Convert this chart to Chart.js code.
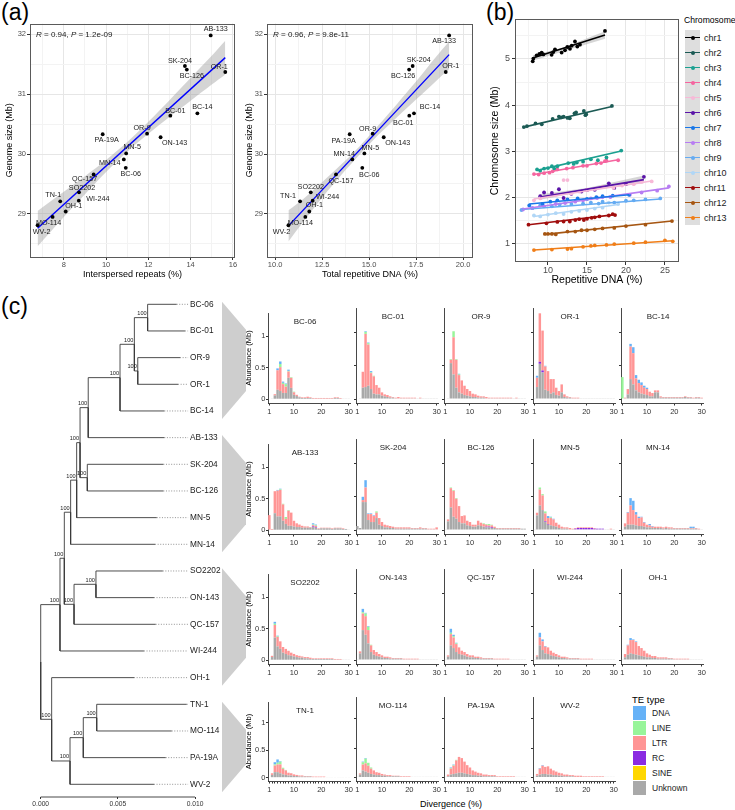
<!DOCTYPE html>
<html><head><meta charset="utf-8">
<script src="https://cdn.jsdelivr.net/npm/chart.js@4.4.1/dist/chart.umd.min.js"></script>
<style>
html,body{margin:0;padding:0;background:#fff;}
body{width:735px;height:810px;position:relative;overflow:hidden;font-family:"Liberation Sans",Arial,Helvetica,sans-serif;color:#000;}
.box{position:absolute;}
.txt{position:absolute;white-space:nowrap;line-height:1;font-family:"Liberation Sans",Arial,Helvetica,sans-serif;}
</style></head><body>
<div class="txt" style="left:1px;top:1px;font-size:23px;">(a)</div>
<div class="txt" style="left:486px;top:1px;font-size:23px;">(b)</div>
<div class="txt" style="left:1px;top:295px;font-size:23px;">(c)</div>
<div id="chrLegend"></div>
<div id="teLegend"></div>
<div class="txt" style="left:420px;top:800px;font-size:9px;">Divergence (%)</div>
<script>
// ---------------- DATA ----------------
const samples = ['AB-133','SK-204','BC-126','OR-1','BC-01','BC-14','OR-9','ON-143','PA-19A','MN-5','MN-14','BC-06','QC-157','SO2202','TN-1','WI-244','OH-1','MO-114','WV-2'];
const genomeSize = [31.98,31.47,31.41,31.37,30.64,30.68,30.34,30.28,30.33,30.01,29.91,29.77,29.66,29.36,29.21,29.22,29.04,28.95,28.81];
const interspersed = [14.95,13.73,13.82,15.64,13.04,14.32,11.94,12.58,9.84,10.95,10.84,10.93,9.41,8.72,7.83,8.71,8.09,7.47,6.76];
const totalRepDNA = [19.26,17.32,17.13,19.08,17.14,17.39,15.19,15.78,13.97,14.75,14.11,14.64,13.24,11.90,11.33,12.00,11.82,11.61,10.71];
const fitIntX = [6.76,15.64], fitIntY = [28.76,31.61];
const bandIntX = [6.76,8,9,10,11,12,13,14,15,15.64];
const bandIntHi = [29.05,29.37,29.63,29.90,30.20,30.54,30.90,31.27,31.64,31.89];
const bandIntLo = [28.46,28.95,29.33,29.70,30.04,30.34,30.62,30.89,31.16,31.33];
const fitTotX = [10.71,19.26], fitTotY = [28.80,31.66];
const bandTotX = [10.71,11.5,12.5,13.5,14.5,15.5,16.5,17.5,18.5,19.26];
const bandTotHi = [29.06,29.25,29.53,29.82,30.13,30.48,30.84,31.21,31.60,31.88];
const bandTotLo = [28.54,28.87,29.27,29.64,29.99,30.32,30.62,30.91,31.20,31.42];
const statInt = {r:'0.94', p:'1.2e-09'};
const statTot = {r:'0.96', p:'9.8e-11'};

const chrNames = ['chr1','chr2','chr3','chr4','chr5','chr6','chr7','chr8','chr9','chr10','chr11','chr12','chr13'];
const chrRepDNA = [
 [8.04,8.12,8.55,8.89,9.19,9.40,10.47,10.68,10.90,11.75,12.18,12.48,12.82,13.04,13.46,13.76,14.10,17.31],
 [6.9,7.3,8.4,9.2,10.6,11.4,11.7,12.0,12.5,12.8,13.4,13.6,14.6,14.8,14.9,18.2],
 [8.6,9.0,9.5,10.0,10.5,10.8,11.2,12.6,13.3,13.7,14.5,15.5,16.4,17.5,19.4],
 [8.2,8.8,9.5,10.2,10.6,11.2,12.4,13.2,14.5,15.0,16.2,16.8,17.3,17.5,19.0],
 [8.2,9.0,11.0,12.0,12.5,13.0,14.0,15.0,16.0,17.0,18.4,19.5,21.0,22.0,23.3],
 [9.0,9.5,10.5,11.4,12.0,13.0,14.3,15.0,16.0,17.8,18.5,20.0,22.3],
 [7.6,9.3,10.3,11.2,12.5,13.8,15.0,16.2,17.0,18.3,20.4],
 [6.8,8.0,9.5,11.0,12.2,13.5,14.5,15.5,16.3,17.0,18.0,20.5,22.0,24.0,25.5],
 [6.6,8.0,9.0,10.5,11.5,13.0,14.5,15.5,16.5,17.0,18.5,20.0,21.0,22.5,24.4],
 [8.2,9.0,10.0,11.0,12.0,13.0,14.0,15.0,16.0,17.0,17.8,19.0],
 [7.5,9.8,11.2,12.0,12.8,13.5,14.0,14.6,15.0,15.6,16.0,16.6,17.8,18.3,18.6],
 [9.6,10.0,10.5,11.0,12.5,13.5,14.3,15.0,16.0,17.0,18.5,20.0,22.5,25.9],
 [8.2,10.5,12.5,13.0,14.5,15.5,16.0,17.5,18.5,21.0,22.5,25.0,26.0]
];
const chrSize = [
 [4.95,5.01,5.08,5.11,5.14,5.10,5.09,5.15,5.21,5.14,5.19,5.26,5.22,5.29,5.38,5.27,5.31,5.61],
 [3.52,3.54,3.60,3.58,3.70,3.75,3.73,3.75,3.72,3.71,3.82,3.84,3.87,3.78,3.80,3.98],
 [2.60,2.57,2.62,2.63,2.67,2.62,2.67,2.74,2.72,2.75,2.77,2.82,2.80,2.86,3.01],
 [2.50,2.49,2.52,2.53,2.56,2.60,2.62,2.64,2.68,2.68,2.73,2.74,2.78,2.79,2.80],
 [1.93,1.97,2.05,2.37,2.37,2.08,2.12,2.16,2.18,2.22,2.20,2.25,2.28,2.33,2.34],
 [2.02,2.10,2.09,2.17,1.98,2.07,2.12,2.15,2.16,2.30,2.20,2.28,2.44],
 [1.82,1.85,1.90,1.93,1.95,1.97,1.96,2.00,2.02,2.03,2.05],
 [1.73,1.76,1.80,1.85,1.87,1.90,1.93,1.97,1.98,2.00,2.00,2.05,2.10,2.14,2.23],
 [1.72,1.76,1.82,1.80,1.84,1.85,1.86,1.88,1.86,1.90,1.88,1.92,1.93,1.95,1.97],
 [1.60,1.58,1.62,1.65,1.63,1.68,1.70,1.72,1.75,1.77,1.88,1.85],
 [1.40,1.43,1.46,1.47,1.47,1.50,1.52,1.50,1.53,1.55,1.56,1.58,1.60,1.63,1.61],
 [1.20,1.20,1.20,1.19,1.25,1.25,1.28,1.28,1.30,1.32,1.33,1.37,1.40,1.48],
 [0.85,0.86,0.87,0.88,0.92,0.94,0.95,0.96,0.98,1.00,1.02,1.06,1.04]
];
const chrFitX = [[8.04,17.31],[6.9,18.2],[8.6,19.4],[8.2,19.0],[8.2,23.3],[9.0,22.3],[7.6,20.4],[6.8,25.5],[6.6,24.4],[8.2,19.0],[7.5,18.6],[9.6,25.9],[8.2,26.0]];
const chrFitY = [[5.02,5.52],[3.52,3.97],[2.58,3.00],[2.49,2.81],[1.96,2.35],[2.00,2.38],[1.85,2.05],[1.74,2.20],[1.73,1.96],[1.58,1.84],[1.40,1.62],[1.19,1.48],[0.85,1.05]];
const chrBandIdx = [0,5];
const chrBandX = [[8.04,12,17.31],[9.0,15,22.3]];
const chrBandHi = [[5.08,5.25,5.60],[2.06,2.20,2.47]];
const chrBandLo = [[4.96,5.17,5.44],[1.94,2.14,2.30]];

const tipNames = ['BC-06','BC-01','OR-9','OR-1','BC-14','AB-133','SK-204','BC-126','MN-5','MN-14','SO2202','ON-143','QC-157','WI-244','OH-1','TN-1','MO-114','PA-19A','WV-2'];
const tipDepth = [0.00881,0.00935,0.00903,0.00890,0.00801,0.00801,0.00795,0.00795,0.00752,0.00741,0.00791,0.00734,0.00745,0.00669,0.00605,0.00946,0.00849,0.00810,0.00734];
const treeNodeIds   = ['N1','N2','N3','N4','N5','N6','N7','N8','N9','S1','S2','N10','U','L4','L3','L2','L','R'];
const treeChildA    = ['BC-06','OR-9','N1','N3','N4','SK-204','N5','N7','N8','SO2202','S1','N9','N10','TN-1','L4','L3','OH-1','U'];
const treeChildB    = ['BC-01','OR-1','N2','BC-14','AB-133','BC-126','N6','MN-5','MN-14','ON-143','QC-157','S2','WI-244','MO-114','PA-19A','WV-2','L2','L'];
const treeNodeDepth = [0.00693,0.00629,0.00607,0.00514,0.00308,0.00302,0.00255,0.00233,0.00194,0.00358,0.00216,0.00153,0.00125,0.00363,0.00276,0.00190,0.00071,0];
const treeSupport   = [100,100,100,100,100,100,100,100,100,100,100,100,100,100,100,100,100,null];
const treeLabelDepth = 0.00955;
const treeTicks = [0, 0.005, 0.01];

const divergenceBins = ['1','2','3','4','5','6','7','8','9','10','11','12','13','14','15','16','17','18','19','20','21','22','23','24','25','26','27','28','29','30'];
const histSamples = tipNames;
const teTypes = ['DNA','LINE','LTR','RC','SINE','Unknown'];
const teColors = ['#66b2f7','#98f59a','#ff9595','#8a2be2','#ffd700','#a9a9a9'];
const teUnknown = [
 [0,0.01,0.06,0.15,0.13,0.1,0.1,0.34,0.18,0.07,0.05,0.03,0.02,0.02,0.02,0.02,0.01,0.01,0.01,0.01,0.01,0.01,0.01,0.01,0.02,0.02,0.01,0.01,0.01,0.01],
 [0,0.01,0.17,0.18,0.2,0.15,0.08,0.07,0.07,0.05,0.04,0.03,0.02,0.02,0.01,0.01,0.01,0.01,0.01,0.01,0.01,0.01,0.01,0.01,0.01,0.01,0.01,0.01,0.01,0.01],
 [0,0.01,0.54,0.37,0.17,0.1,0.08,0.06,0.05,0.04,0.03,0.03,0.02,0.02,0.02,0.01,0.01,0.01,0.01,0.01,0.01,0.01,0.01,0.01,0.01,0.01,0.01,0.01,0.01,0.01],
 [0.01,0.18,0.53,0.4,0.14,0.12,0.08,0.1,0.06,0.05,0.1,0.03,0.02,0.02,0.01,0.01,0.01,0.01,0.01,0.01,0.01,0.01,0.01,0.01,0.01,0.01,0.01,0.01,0.01,0.01],
 [0,0.01,0.07,0.3,0.22,0.13,0.1,0.08,0.07,0.06,0.04,0.04,0.1,0.1,0.02,0.02,0.02,0.02,0.02,0.02,0.02,0.02,0.02,0.03,0.02,0.02,0.01,0.02,0.02,0.01],
 [0.01,0.01,0.27,0.22,0.22,0.15,0.1,0.07,0.07,0.06,0.05,0.05,0.04,0.04,0.04,0.04,0.05,0.04,0.02,0.03,0.03,0.03,0.03,0.02,0.03,0.03,0.03,0.02,0.02,0.01],
 [0.06,0.03,0.42,0.42,0.15,0.12,0.12,0.18,0.08,0.06,0.04,0.04,0.03,0.03,0.02,0.02,0.02,0.02,0.02,0.02,0.02,0.02,0.02,0.02,0.02,0.02,0.01,0.01,0.01,0.01],
 [0.01,0.13,0.34,0.2,0.17,0.12,0.1,0.1,0.07,0.06,0.05,0.05,0.07,0.06,0.05,0.04,0.04,0.03,0.03,0.02,0.02,0.02,0.02,0.02,0.02,0.02,0.02,0.02,0.02,0.02],
 [0.01,0.22,0.37,0.3,0.12,0.08,0.07,0.06,0.05,0.03,0.02,0.02,0.02,0.01,0.01,0.01,0.01,0.01,0.01,0.01,0.01,0.01,0.01,0.01,0.01,0.01,0.01,0.01,0.01,0.01],
 [0.01,0.05,0.08,0.08,0.08,0.07,0.06,0.06,0.05,0.04,0.04,0.03,0.03,0.03,0.03,0.02,0.03,0.02,0.02,0.02,0.02,0.02,0.02,0.02,0.02,0.02,0.02,0.02,0.01,0.01],
 [0.01,0.05,0.36,0.22,0.18,0.12,0.1,0.08,0.07,0.06,0.05,0.04,0.04,0.03,0.03,0.02,0.02,0.02,0.02,0.02,0.02,0.02,0.02,0.02,0.01,0.01,0.01,0.01,0.01,0.01],
 [0.01,0.1,0.45,0.38,0.25,0.12,0.08,0.06,0.05,0.04,0.03,0.03,0.02,0.02,0.02,0.02,0.02,0.01,0.01,0.01,0.01,0.01,0.01,0.01,0.01,0.01,0.01,0.01,0.01,0.01],
 [0.01,0.05,0.22,0.18,0.12,0.09,0.08,0.07,0.05,0.04,0.04,0.03,0.03,0.02,0.02,0.02,0.02,0.02,0.01,0.01,0.01,0.01,0.01,0.01,0.01,0.01,0.01,0.01,0.01,0.01],
 [0.01,0.05,0.22,0.15,0.1,0.09,0.07,0.06,0.05,0.04,0.03,0.03,0.02,0.02,0.02,0.02,0.02,0.01,0.01,0.01,0.01,0.01,0.01,0.01,0.01,0.01,0.01,0.01,0.01,0.01],
 [0.01,0.04,0.08,0.1,0.09,0.08,0.07,0.06,0.05,0.04,0.04,0.03,0.03,0.02,0.02,0.02,0.02,0.02,0.02,0.01,0.01,0.01,0.01,0.01,0.01,0.01,0.01,0.01,0.01,0.01],
 [0.01,0.05,0.1,0.1,0.08,0.06,0.05,0.04,0.04,0.03,0.03,0.02,0.02,0.02,0.02,0.02,0.01,0.01,0.01,0.01,0.01,0.01,0.01,0.01,0.01,0.01,0.01,0.01,0.01,0.01],
 [0.01,0.05,0.12,0.1,0.08,0.06,0.05,0.04,0.04,0.03,0.03,0.02,0.02,0.02,0.02,0.02,0.01,0.01,0.01,0.01,0.01,0.01,0.01,0.01,0.01,0.01,0.01,0.01,0.01,0.01],
 [0.01,0.02,0.05,0.06,0.07,0.08,0.08,0.07,0.06,0.05,0.04,0.04,0.03,0.03,0.02,0.02,0.02,0.02,0.02,0.01,0.01,0.01,0.01,0.01,0.01,0.01,0.01,0.01,0.01,0.01],
 [0.01,0.03,0.05,0.06,0.06,0.05,0.05,0.04,0.04,0.03,0.03,0.02,0.02,0.02,0.02,0.01,0.01,0.01,0.01,0.01,0.01,0.01,0.01,0.01,0.01,0.01,0.01,0.01,0.01,0.01]
];
const teLTR = [
 [0,0,0.02,0.31,0.38,0.14,0.1,0.1,0.16,0.04,0.02,0.01,0.01,0.01,0.02,0.01,0.01,0.01,0.01,0.01,0.01,0.01,0.01,0.01,0.01,0.01,0.01,0,0,0],
 [0,0,0.24,0.8,0.62,0.24,0.26,0.14,0.1,0.05,0.03,0.03,0.02,0.01,0.01,0.02,0.01,0.01,0.01,0.01,0.01,0.01,0,0.01,0,0,0,0,0,0],
 [0,0,0.05,0.56,0.42,0.26,0.2,0.14,0.1,0.08,0.05,0.04,0.03,0.02,0.02,0.02,0.01,0.01,0.01,0.01,0.01,0.01,0.01,0.01,0.01,0,0.01,0,0,0],
 [0,0.14,0.73,0.6,0.35,0.3,0.22,0.2,0.11,0.07,0.12,0.04,0.02,0.01,0.01,0.01,0.01,0,0,0,0,0,0,0,0,0,0,0,0,0],
 [0,0.01,0.08,0.49,0.47,0.18,0.14,0.13,0.1,0.09,0.07,0.05,0.03,0.03,0.02,0.01,0.01,0.01,0.01,0.01,0.01,0.01,0.01,0.01,0.01,0.01,0.01,0.01,0.01,0.01],
 [0.23,0.01,0.35,0.41,0.42,0.26,0.08,0.24,0.21,0.09,0.06,0.04,0.03,0.02,0.02,0.01,0.02,0.02,0.01,0.01,0.01,0.01,0.01,0.01,0.01,0.01,0.01,0.01,0,0],
 [0,0,0.03,0.22,0.09,0.12,0.09,0.08,0.1,0.06,0.04,0.03,0.03,0.02,0.02,0.02,0.02,0.02,0.02,0.02,0.01,0.01,0.01,0.02,0.01,0.01,0.01,0.01,0.01,0.03],
 [0,0.03,0.29,0.39,0.3,0.24,0.11,0.12,0.07,0.06,0.03,0.03,0.07,0.05,0.04,0.03,0.02,0.03,0.02,0.01,0.01,0.01,0.01,0.01,0.01,0.01,0.01,0.01,0,0],
 [0,0.04,0.24,0.22,0.12,0.09,0.11,0.1,0.06,0.05,0.03,0.02,0.02,0.02,0.01,0.01,0.01,0.01,0.01,0.01,0.01,0.01,0.01,0,0,0,0,0,0.01,0],
 [0,0.05,0.18,0.29,0.22,0.16,0.12,0.13,0.06,0.04,0.03,0.02,0.02,0.02,0.02,0.02,0.02,0.02,0.02,0.01,0.01,0.01,0.01,0.01,0.01,0.01,0.01,0.01,0.01,0],
 [0,0.02,0.2,0.15,0.12,0.09,0.08,0.07,0.05,0.04,0.03,0.03,0.02,0.02,0.02,0.02,0.01,0.01,0.01,0.01,0.01,0.01,0.01,0.01,0.01,0.01,0.01,0,0,0],
 [0,0.03,0.25,0.28,0.2,0.1,0.07,0.06,0.04,0.03,0.02,0.02,0.02,0.01,0.01,0.01,0.01,0.01,0.01,0.01,0.01,0.01,0.01,0,0,0,0,0,0,0],
 [0,0.02,0.17,0.16,0.12,0.1,0.06,0.05,0.04,0.03,0.03,0.02,0.02,0.02,0.01,0.01,0.01,0.01,0.01,0.01,0.01,0.01,0.01,0.01,0,0,0,0,0,0],
 [0,0.02,0.12,0.13,0.1,0.1,0.07,0.05,0.04,0.03,0.02,0.02,0.02,0.01,0.01,0.01,0.01,0.01,0.01,0.01,0.01,0.01,0,0,0,0,0,0,0,0],
 [0,0.05,0.14,0.2,0.21,0.19,0.14,0.12,0.09,0.06,0.04,0.03,0.03,0.02,0.02,0.02,0.02,0.01,0.01,0.01,0.01,0.01,0.01,0.01,0.01,0,0,0,0,0],
 [0,0.03,0.12,0.14,0.16,0.1,0.08,0.05,0.04,0.03,0.02,0.02,0.02,0.01,0.01,0.01,0.01,0.01,0.01,0.01,0.01,0,0,0,0,0,0,0,0,0],
 [0,0.02,0.1,0.14,0.12,0.09,0.07,0.05,0.04,0.03,0.02,0.02,0.02,0.01,0.01,0.01,0.01,0.01,0.01,0.01,0,0,0,0,0,0,0,0,0,0],
 [0,0.03,0.1,0.14,0.22,0.27,0.25,0.2,0.15,0.12,0.08,0.06,0.05,0.04,0.03,0.03,0.02,0.02,0.02,0.01,0.01,0.01,0.01,0.01,0.01,0.01,0,0,0,0],
 [0,0.03,0.1,0.14,0.12,0.14,0.1,0.08,0.06,0.05,0.04,0.03,0.03,0.02,0.02,0.02,0.02,0.02,0.01,0.01,0.01,0.01,0.01,0.01,0.01,0.01,0,0,0,0]
];
const teLINE = [
 [0,0,0,0,0.05,0.02,0.04,0.01,0.01,0.01],
 [0,0,0,0.03,0.02,0.01,0.01],
 [0,0,0.01,0.09,0.01,0.01],
 [],
 [0.33],
 [0,0,0,0,0.01,0.01,0.03,0.01,0,0,0,0,0,0,0,0,0.01,0.01],
 [0,0,0,0,0,0,0,0.02],
 [0,0,0.01,0.01,0.01,0,0,0,0,0,0,0,0,0,0.01,0.01,0.02,0.01],
 [0,0,0.03,0.02,0.03,0,0.01],
 [],
 [0,0,0.02,0.01],
 [0,0,0.02,0.04,0.05,0.01],
 [0,0,0.02,0.02,0.01],
 [],
 [],
 [0,0,0.02,0.03,0.05,0.02,0.01],
 [0,0,0.04,0.08,0.05,0.02],
 [0,0,0.01,0.01,0.01],
 []
];
const teDNA = [
 [0,0,0,0.03,0.04,0.02,0.01,0.02],
 [0,0,0,0.01,0.01,0.02],
 [0,0,0,0,0,0.01],
 [0,0.03,0,0,0.01],
 [0,0,0,0.04,0.09,0.05,0.05,0.04,0.03,0.02],
 [0,0,0,0.01,0.01,0,0,0,0,0,0,0,0,0,0,0,0.02,0.01],
 [0,0,0.05,0.11,0.01,0.01,0.01],
 [],
 [0,0,0,0,0,0.03,0.01,0.01],
 [0,0,0.01,0.11,0.14,0.04,0.02,0.01,0.01,0,0.02,0.01,0,0,0,0,0,0,0,0,0,0,0,0,0,0.02,0.02],
 [0,0,0.03,0.01],
 [0,0,0.05,0.01,0.01],
 [0,0,0.06,0.02,0.01],
 [0,0,0.07,0.03,0.01],
 [0,0,0.01,0.03,0.01,0.01],
 [0,0,0.04,0.06,0.01],
 [0,0,0.01,0.01],
 [0,0,0.01,0.01],
 [0,0,0.01,0.01]
];
const teRC = [
 [],[],[],
 [0,0,0.03,0.03],
 [],
 [0,0,0,0,0,0,0,0,0,0,0,0,0,0,0,0,0.01,0.01],
 [],
 [0,0,0,0,0,0,0,0,0,0,0,0,0,0,0,0.01,0.01,0.01],
 [0,0,0,0,0.01,0.01,0,0,0,0,0,0,0,0,0,0.01,0.02,0.02,0.02,0.02,0.02,0.02,0.01,0.01,0.01,0.01],
 [],[],[],[],[],[],[],[],[],[]
];

// ---------------- LAYOUT / STYLE (not data) ----------------
const FONT = '"Liberation Sans", Arial, Helvetica, sans-serif';
Chart.defaults.font.family = FONT;
Chart.defaults.color = '#4d4d4d';
const chrColors = ['#000000','#1b5a54','#1ba090','#f5659f','#f7b9d7','#5a14a8','#1877e8','#b77df2','#64abf2','#b0d6f6','#a00d0d','#a65612','#f07e18'];
const labelOffA = {'AB-133':[5,-6],'SK-204':[-5,-5],'BC-126':[5,6],'OR-1':[-6,-5],'BC-01':[5,-5],'BC-14':[5,-6],'OR-9':[-5,-6],'ON-143':[14,6],'PA-19A':[4,6],'MN-5':[6,-6],'MN-14':[-14,4],'BC-06':[5,6],'QC-157':[-9,5],'SO2202':[3,-4],'TN-1':[-7,-6],'WI-244':[19,-2],'OH-1':[8,-5],'MO-114':[-4,6],'WV-2':[4,7]};
const labelOffB = {'AB-133':[-5,6],'SK-204':[6,-6],'BC-126':[-6,6],'OR-1':[5,-6],'BC-01':[-6,7],'BC-14':[16,-6],'OR-9':[-5,-5],'ON-143':[14,6],'PA-19A':[-6,7],'MN-5':[6,-5],'MN-14':[-8,-5],'BC-06':[7,7],'QC-157':[5,7],'SO2202':[0,-5],'TN-1':[-12,-5],'WI-244':[15,-4],'OH-1':[5,-6],'MO-114':[-5,6],'WV-2':[-7,7]};

function mount(left, top, w, h){
  const d = document.createElement('div');
  d.className = 'box';
  d.style.left = left+'px'; d.style.top = top+'px'; d.style.width = w+'px'; d.style.height = h+'px';
  const c = document.createElement('canvas');
  c.width = w; c.height = h; c.style.width = w+'px'; c.style.height = h+'px';
  d.appendChild(c); document.body.appendChild(d);
  return c;
}
function near(v, step){ return Math.abs(v/step - Math.round(v/step)) < 1e-6; }
const framePlugin = { id:'frame', afterDatasetsDraw(chart, args, opts){
  const a = chart.chartArea, ctx = chart.ctx;
  ctx.save(); ctx.strokeStyle = opts.color || '#555'; ctx.lineWidth = 1;
  ctx.strokeRect(Math.round(a.left)+0.5, Math.round(a.top)+0.5, Math.round(a.right-a.left)-1, Math.round(a.bottom-a.top)-1);
  ctx.restore();
}};
function bwAxis(o){
  return {
    type:'linear', position:o.pos, min:o.min, max:o.max,
    afterFit: s => { if (o.pos === 'left') s.width = o.fit; else s.height = o.fit; },
    ticks:{ stepSize:o.step, includeBounds:false, autoSkip:false, maxRotation:0, padding:o.tpad, color:'#4d4d4d', font:{size:o.fs},
      callback: v => near(v, o.major) ? o.fmt(v) : '' },
    grid:{ color: c => (c.tick && near(c.tick.value, o.major)) ? '#e6e6e6' : '#f3f3f3', lineWidth:1, tickLength:o.tl,
      tickColor: c => (c.tick && near(c.tick.value, o.major)) ? '#333' : 'rgba(0,0,0,0)', drawTicks:true },
    border:{display:false},
    title:{display:true, text:o.title, color:'#000', font:{size:o.tfs}, padding:o.tp}
  };
}
function baseOpts(){ return {responsive:false, animation:false, devicePixelRatio:1, events:[], plugins:{legend:{display:false}, tooltip:{enabled:false}, frame:{color:'#5a5a5a'}}}; }

// ---------------- PANEL (a) ----------------
function scatterA(canvas, xVals, fit, band, offs, stat, xAxis, yFit, padR){
  const lbl = { id:'lbl', afterDatasetsDraw(chart){
    const {ctx, scales:{x, y}} = chart, a = chart.chartArea;
    ctx.save(); ctx.fillStyle = '#1a1a1a'; ctx.textBaseline = 'middle';
    ctx.font = '7.2px '+FONT; ctx.textAlign = 'center';
    samples.forEach((s,i) => {
      ctx.fillText(s, x.getPixelForValue(xVals[i]) + offs[s][0], y.getPixelForValue(genomeSize[i]) + offs[s][1]);
    });
    let cx = a.left + 6; const cy = a.top + 11; ctx.textAlign = 'left';
    [['R',1],[' = '+stat.r+', ',0],['P',1],[' = '+stat.p,0]].forEach(([t,it]) => {
      ctx.font = (it ? 'italic ' : '') + '8px ' + FONT; ctx.fillText(t, cx, cy); cx += ctx.measureText(t).width;
    });
    ctx.restore();
  }};
  const opts = baseOpts();
  opts.layout = {padding:{top:5, right:padR, left:0, bottom:0}};
  opts.scales = {
    x: bwAxis(Object.assign({pos:'bottom', fit:23, tpad:0, tl:3, fs:7.5, tfs:9, tp:{top:0,bottom:0}}, xAxis)),
    y: bwAxis({pos:'left', min:28.28, max:32.18, step:0.5, major:1, fmt:v=>String(v), title:'Genome size (Mb)', fit:yFit, tpad:1, tl:3, fs:7.5, tfs:9, tp:{top:4,bottom:0}})
  };
  return new Chart(canvas, {
    type:'scatter',
    data:{datasets:[
      {data: xVals.map((x,i)=>({x, y:genomeSize[i]})), backgroundColor:'#000', borderColor:'#000', pointRadius:1.9, pointBorderWidth:0},
      {type:'line', data: fit[0].map((x,i)=>({x, y:fit[1][i]})), borderColor:'#0000ff', borderWidth:1.4, pointRadius:0, fill:false},
      {type:'line', data: band[0].map((x,i)=>({x, y:band[1][i]})), borderColor:'rgba(0,0,0,0)', pointRadius:0, fill:'+1', backgroundColor:'rgba(153,153,153,0.42)', tension:0.3},
      {type:'line', data: band[0].map((x,i)=>({x, y:band[2][i]})), borderColor:'rgba(0,0,0,0)', pointRadius:0, fill:false, tension:0.3}
    ]},
    options: opts,
    plugins:[framePlugin, lbl]
  });
}
scatterA(mount(0,18,240,262), interspersed, [fitIntX, fitIntY], [bandIntX, bandIntHi, bandIntLo], labelOffA, statInt,
  {min:6.4, max:16.1, step:1, major:2, fmt:v=>String(v), title:'Interspersed repeats (%)'}, 30, 5);
scatterA(mount(240,18,240,262), totalRepDNA, [fitTotX, fitTotY], [bandTotX, bandTotHi, bandTotLo], labelOffB, statTot,
  {min:9.57, max:20.53, step:1.25, major:2.5, fmt:v=>v.toFixed(1), title:'Total repetitive DNA (%)'}, 27, 7);

// ---------------- PANEL (b) ----------------
(function(){
  const ds = [];
  chrNames.forEach((n,k) => {
    ds.push({type:'line', order:0, data: chrFitX[k].map((x,i)=>({x, y:chrFitY[k][i]})), borderColor:chrColors[k], borderWidth:1.6, pointRadius:0, fill:false});
    ds.push({type:'scatter', order:1, data: chrRepDNA[k].map((x,i)=>({x, y:chrSize[k][i]})), backgroundColor:chrColors[k], borderColor:chrColors[k], pointRadius:1.9, pointBorderWidth:0});
  });
  chrBandIdx.forEach((k,j) => {
    ds.push({type:'line', order:2, data: chrBandX[j].map((x,i)=>({x, y:chrBandHi[j][i]})), borderColor:'rgba(0,0,0,0)', pointRadius:0, fill:'+1', backgroundColor:'rgba(153,153,153,0.4)'});
    ds.push({type:'line', order:2, data: chrBandX[j].map((x,i)=>({x, y:chrBandLo[j][i]})), borderColor:'rgba(0,0,0,0)', pointRadius:0, fill:false});
  });
  const opts = baseOpts();
  opts.layout = {padding:{top:5, right:6, left:0, bottom:0}};
  opts.scales = {
    x: bwAxis({pos:'bottom', min:5.77, max:26.8, step:2.5, major:5, fmt:v=>String(v), title:'Repetitive DNA (%)', fit:24, tpad:0, tl:3, fs:9, tfs:10.5, tp:{top:0,bottom:0}}),
    y: bwAxis({pos:'left', min:0.59, max:5.86, step:0.5, major:1, fmt:v=>String(v), title:'Chromosome size (Mb)', fit:26, tpad:2, tl:3, fs:9, tfs:10.5, tp:{top:0,bottom:0}})
  };
  new Chart(mount(489,12,196,274), {type:'scatter', data:{datasets:ds}, options:opts, plugins:[framePlugin]});
})();

// chromosome legend (HTML)
(function(){
  const L = document.getElementById('chrLegend');
  let h = '<div class="txt" style="left:684px;top:16px;font-size:8.6px;">Chromosome</div>';
  chrNames.forEach((n,k) => {
    const t = 30 + 15*k;
    h += '<div class="box" style="left:685px;top:'+t+'px;width:15px;height:15px;background:#dedede;"></div>';
    h += '<div class="box" style="left:685px;top:'+(t+6.7)+'px;width:15px;height:1.6px;background:'+chrColors[k]+';"></div>';
    h += '<div class="box" style="left:690.5px;top:'+(t+5.5)+'px;width:4px;height:4px;border-radius:2px;background:'+chrColors[k]+';"></div>';
    h += '<div class="txt" style="left:704px;top:'+(t+3.5)+'px;font-size:9px;color:#1a1a1a;">'+n+'</div>';
  });
  L.innerHTML = h;
})();

// ---------------- PANEL (c): tree ----------------
(function(){
  const pos = {};
  tipNames.forEach((n,i) => pos[n] = {x:tipDepth[i], y:i+1});
  treeNodeIds.forEach((id,k) => { const a = pos[treeChildA[k]], b = pos[treeChildB[k]]; pos[id] = {x:treeNodeDepth[k], y:(a.y+b.y)/2}; });
  const seg = [];
  treeNodeIds.forEach((id,k) => {
    const p = pos[id];
    [treeChildA[k], treeChildB[k]].forEach(ch => { const q = pos[ch];
      seg.push({x:p.x, y:p.y}, {x:p.x, y:q.y}, {x:q.x, y:q.y}, {x:q.x, y:null}); });
  });
  const dots = [];
  tipNames.forEach((n,i) => { dots.push({x:tipDepth[i], y:i+1}, {x:treeLabelDepth, y:i+1}, {x:treeLabelDepth, y:null}); });
  const vTop = 0.4638, vBot = 19.476;
  const rowsTips = [[1,5],[6,10],[11,15],[16,19]];
  const treePlug = { id:'treeDeco',
    beforeDatasetsDraw(chart){
      const {ctx, scales:{y}} = chart;
      ctx.save(); ctx.fillStyle = '#cecece';
      rowsTips.forEach(([a,b]) => {
        const t = y.getPixelForValue(a-0.1), bt = y.getPixelForValue(b+0.3);
        ctx.beginPath(); ctx.moveTo(222,t); ctx.lineTo(246,t+28); ctx.lineTo(246,bt-28); ctx.lineTo(222,bt); ctx.closePath(); ctx.fill();
      });
      ctx.restore();
    },
    afterDatasetsDraw(chart){
      const {ctx, scales:{x, y}} = chart;
      ctx.save(); ctx.fillStyle = '#222'; ctx.textBaseline = 'middle'; ctx.textAlign = 'left'; ctx.font = '8.3px '+FONT;
      const lx = x.getPixelForValue(treeLabelDepth) + 2;
      tipNames.forEach((n,i) => ctx.fillText(n, lx, y.getPixelForValue(i+1)));
      ctx.font = '5.6px '+FONT; ctx.textAlign = 'right'; ctx.textBaseline = 'alphabetic';
      treeNodeIds.forEach((id,k) => { if (treeSupport[k] == null) return; const p = pos[id];
        ctx.fillText(String(treeSupport[k]), x.getPixelForValue(p.x) - 1, y.getPixelForValue(p.y) - 2.5); });
      ctx.restore();
    }
  };
  const opts = baseOpts();
  delete opts.plugins.frame;
  opts.layout = {padding:0};
  opts.scales = {
    x: {type:'linear', min:-0.002638, max:0.013564, afterFit: s => { s.height = 13; },
        afterBuildTicks: s => { s.ticks = treeTicks.map(v => ({value:v})); },
        ticks:{ autoSkip:false, maxRotation:0, padding:1, font:{size:6.7}, color:'#333', callback: v => Number(v).toFixed(3) },
        grid:{ drawOnChartArea:false, drawTicks:true, tickLength:2, tickColor:'#333' }, border:{display:false} },
    y: {type:'linear', display:false, min:vTop, max:vBot, reverse:true}
  };
  new Chart(mount(0,290,250,520), {
    type:'scatter',
    data:{datasets:[
      {type:'line', data:seg, borderColor:'#3a3a3a', borderWidth:0.9, pointRadius:0, fill:false, spanGaps:false},
      {type:'line', data:dots, borderColor:'#777', borderWidth:0.8, borderDash:[1,1.6], pointRadius:0, fill:false, spanGaps:false},
      {type:'line', data:[{x:treeTicks[0], y:vBot},{x:treeTicks[2], y:vBot}], borderColor:'#333', borderWidth:0.9, pointRadius:0, fill:false, clip:false}
    ]},
    options: opts,
    plugins:[treePlug]
  });
})();

// ---------------- PANEL (c): histograms ----------------
const colAxisX = [268, 356, 444, 533, 621];
const rowTop = [308, 439, 569, 697], rowBot = [403, 534, 664, 781];
function hist(k){
  const r = Math.floor(k/5), c = k % 5;
  const yW = c === 0 ? 28 : 5, plotW = 82, xH = 18, padR = 8;
  const left = colAxisX[c] - yW, top = rowTop[r];
  const w = yW + plotW + padR, h = (rowBot[r] - rowTop[r]) + xH;
  const series = [[teUnknown, 5], [teRC, 3], [teLTR, 2], [teLINE, 1], [teDNA, 0]];
  const ds = series.filter(([arr]) => arr[k] && arr[k].length).map(([arr, ci]) => ({
    label: teTypes[ci], data: arr[k], backgroundColor: teColors[ci], borderWidth:0, barPercentage:0.9, categoryPercentage:1
  }));
  const major = ['1','10','20','30'];
  const title = { id:'htitle', afterDatasetsDraw(chart){
    const {ctx} = chart, a = chart.chartArea;
    ctx.save(); ctx.fillStyle = '#1a1a1a'; ctx.font = '8px '+FONT; ctx.textAlign = 'center'; ctx.textBaseline = 'middle';
    ctx.fillText(histSamples[k], a.left + 37, a.top + 9); ctx.restore();
  }};
  const opts = baseOpts();
  delete opts.plugins.frame;
  opts.layout = {padding:{top:0, right:padR, left:0, bottom:0}};
  opts.scales = {
    x: {type:'category', stacked:true, offset:true, afterFit: s => { s.height = xH; },
        ticks:{ autoSkip:false, maxRotation:0, padding:2, font:{size:7.5}, color:'#333',
          callback: (v, i) => major.includes(divergenceBins[i]) ? divergenceBins[i] : '' },
        grid:{ offset:false, drawOnChartArea:false, drawTicks:true, tickLength:2.5,
          tickColor: cx => (r === 3 || major.includes(divergenceBins[cx.index])) ? '#333' : 'rgba(0,0,0,0)' },
        border:{display:true, color:'#333', width:0.9} },
    y: {type:'linear', stacked:true, min:-0.06, max:1.37, afterFit: s => { s.width = yW; },
        afterBuildTicks: s => { s.ticks = [0, 0.5, 1].map(v => ({value:v})); },
        ticks:{ display: c === 0, padding:0.5, font:{size:7.5}, color:'#333', callback: v => String(v) },
        grid:{ drawOnChartArea:false, drawTicks:true, tickLength:2, tickColor:'#333' },
        border:{display:true, color:'#333', width:0.9},
        title:{ display: c === 0, text:'Abundance (Mb)', color:'#000', font:{size:7.5}, padding:{top:4.5, bottom:0} } }
  };
  new Chart(mount(left, top, w, h), {type:'bar', data:{labels:divergenceBins, datasets:ds}, options:opts, plugins:[title]});
}
histSamples.forEach((s,k) => hist(k));

// TE legend (HTML)
(function(){
  const L = document.getElementById('teLegend');
  let h = '<div class="txt" style="left:632px;top:695px;font-size:9.5px;">TE type</div>';
  teTypes.forEach((t,i) => {
    const tp = 706 + 15*i;
    h += '<div class="box" style="left:633px;top:'+tp+'px;width:13px;height:14px;background:'+teColors[i]+';"></div>';
    h += '<div class="txt" style="left:652px;top:'+(tp+3)+'px;font-size:8.5px;color:#1a1a1a;">'+t+'</div>';
  });
  L.innerHTML = h;
})();
</script>
</body></html>
